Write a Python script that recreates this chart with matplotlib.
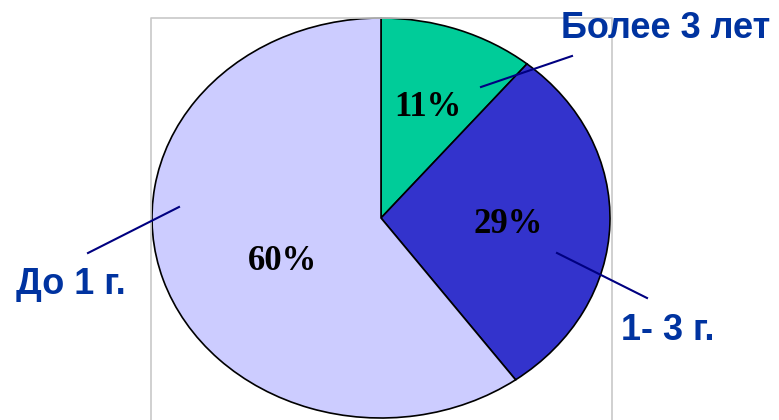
import matplotlib
matplotlib.use('Agg')
import matplotlib.pyplot as plt

# данные
categories = ['Более 3 лет', '1- 3 г.', 'До 1 г.']
shares = [11, 29, 60]
colors = ['#00CC99', '#3333CC', '#CCCCFF']

W, H = 779, 420
fig = plt.figure(figsize=(W / 100, H / 100), dpi=100)


def px_box(x0, y0, x1, y1):
    # пиксели (сверху вниз) -> координаты фигуры
    return [x0 / W, 1 - y1 / H, (x1 - x0) / W, (y1 - y0) / H]


# слой для рамки, подписей и линий-выносок
over = fig.add_axes([0, 0, 1, 1])
over.set_xlim(0, W)
over.set_ylim(H, 0)
over.axis('off')

# серая рамка области диаграммы
over.plot([151, 151, 612, 612], [H + 5, 18, 18, H + 5], color='#c8c8c8', lw=1.2, zorder=0)

# сама диаграмма (эллипс)
ax = fig.add_axes(px_box(152, 18, 610, 418))
wedges, texts, autotexts = ax.pie(
    shares, colors=colors, startangle=90, counterclock=False,
    autopct='%d%%', pctdistance=0.57,
    wedgeprops=dict(edgecolor='black', linewidth=1.2),
    textprops=dict(family='Liberation Serif', fontweight='bold', fontsize=25, color='black'))
ax.set_aspect('auto')
ax.set_xlim(-1, 1)
ax.set_ylim(-1, 1)

# положение процентов как на картинке
pct_pos = [(0.205, 0.55), (0.555, -0.03), (-0.428, -0.22)]
for t, p in zip(autotexts, pct_pos):
    t.set_position(p)

# подписи категорий
lab_color = '#0033A0'
label_pos = [(666, 28), (668, 330), (71, 284)]
for name, (x, y) in zip(categories, label_pos):
    over.text(x, y, name, ha='center', va='center', fontsize=26, fontweight='bold',
              family='Liberation Sans', color=lab_color)

# линии-выноски
leaders = [((481, 87), (572, 56)), ((557, 253), (647, 298)), ((88, 253), (179, 207))]
for (x0, y0), (x1, y1) in leaders:
    over.plot([x0, x1], [y0, y1], color='#000080', lw=1.5, zorder=5)

over.set_zorder(2)
over.patch.set_alpha(0)

fig.savefig('out.png', dpi=100, facecolor='white')
